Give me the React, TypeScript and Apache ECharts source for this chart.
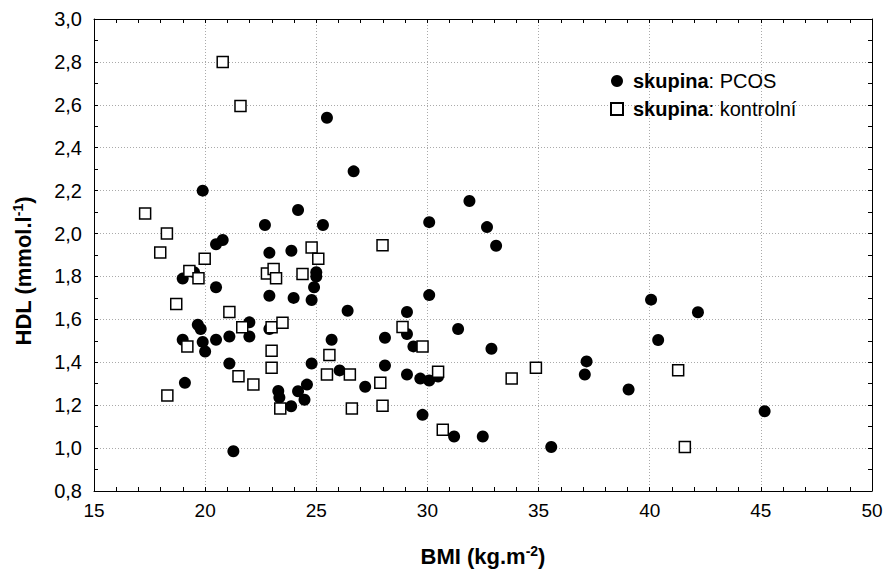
import React, { useEffect, useRef } from "react";
import * as echarts from "echarts";

const pcosBMI = [25.48, 26.68, 19.89, 24.18, 22.69, 25.3, 20.49, 20.79, 22.89, 23.88, 18.99, 19.5, 20.49, 25.0, 25.0, 24.9, 22.89, 23.98, 24.79, 26.41, 19.67, 19.8, 21.99, 21.99, 21.09, 20.49, 18.99, 19.89, 20.0, 22.89, 25.69, 24.79, 21.09, 26.05, 27.2, 19.09, 23.29, 23.34, 24.18, 24.58, 24.47, 23.87, 21.27, 31.89, 30.08, 32.68, 33.09, 30.08, 29.08, 29.08, 28.09, 31.38, 29.37, 32.88, 28.09, 29.08, 29.68, 30.08, 30.48, 37.16, 37.08, 39.05, 29.78, 31.2, 32.49, 35.57, 40.06, 42.17, 40.38, 45.17];
const pcosHDL = [2.54, 2.29, 2.2, 2.11, 2.04, 2.04, 1.95, 1.97, 1.91, 1.92, 1.79, 1.82, 1.75, 1.82, 1.8, 1.75, 1.71, 1.7, 1.69, 1.64, 1.575, 1.555, 1.586, 1.52, 1.52, 1.505, 1.505, 1.495, 1.45, 1.555, 1.505, 1.394, 1.394, 1.362, 1.286, 1.304, 1.266, 1.236, 1.265, 1.296, 1.225, 1.195, 0.985, 2.152, 2.053, 2.03, 1.943, 1.713, 1.634, 1.532, 1.514, 1.555, 1.474, 1.463, 1.385, 1.343, 1.324, 1.315, 1.334, 1.404, 1.343, 1.273, 1.155, 1.054, 1.054, 1.005, 1.692, 1.633, 1.504, 1.172];

const controlBMI = [20.79, 21.59, 17.3, 18.28, 24.79, 25.09, 27.98, 17.98, 19.98, 19.29, 19.7, 18.7, 22.78, 23.08, 23.19, 24.38, 21.09, 21.67, 19.2, 22.99, 23.48, 22.99, 22.99, 25.59, 25.48, 26.51, 27.88, 27.98, 21.5, 22.17, 18.3, 23.38, 26.6, 28.88, 29.78, 30.48, 33.79, 34.88, 30.69, 41.28, 41.58];
const controlHDL = [2.8, 2.594, 2.093, 2.0, 1.935, 1.882, 1.945, 1.912, 1.882, 1.825, 1.792, 1.672, 1.814, 1.835, 1.792, 1.812, 1.634, 1.563, 1.474, 1.563, 1.584, 1.454, 1.374, 1.434, 1.343, 1.343, 1.304, 1.197, 1.335, 1.296, 1.245, 1.184, 1.185, 1.564, 1.474, 1.356, 1.324, 1.374, 1.085, 1.363, 1.005];

const seriesNames = ["PCOS", "kontrolní"];
const legendPrefix = "skupina";
const xTitle = ["BMI (kg.m", "-2", ")"];
const yTitle = ["HDL (mmol.l", "-1", ")"];

const FONT = "'Liberation Sans', Arial, sans-serif";

export default function App() {
  const ref = useRef<HTMLDivElement>(null);
  useEffect(() => {
    document.body.style.margin = "0";
    if (!ref.current) return;
    const chart = echarts.init(ref.current, null, { renderer: "svg" });
    const axisCommon = {
      type: "value" as const,
      axisLine: { show: true, onZero: false, lineStyle: { color: "#000", width: 1 } },
      axisTick: { show: true, inside: true, length: 4, lineStyle: { color: "#000" } },
      minorTick: { show: true, length: 4, lineStyle: { color: "#000" } },
    };
    const splitLine = { show: true, lineStyle: { color: "#aaa", type: [1, 2] as any, width: 1 } };
    const titleRich = {
      t: { fontSize: 22, fontWeight: "bold", fontFamily: FONT, lineHeight: 24, fill: "#000" },
      s: { fontSize: 14, fontWeight: "bold", fontFamily: FONT, lineHeight: 14, verticalAlign: "top", fill: "#000" },
    };
    const option: any = {
      animation: false,
      backgroundColor: "#fff",
      textStyle: { fontFamily: FONT },
      grid: { left: 94, right: 17, top: 19, bottom: 85, containLabel: false },
      xAxis: [
        {
          ...axisCommon,
          position: "bottom",
          min: 15,
          max: 50,
          interval: 5,
          minorTick: { ...axisCommon.minorTick, splitNumber: 5 },
          splitLine,
          axisLabel: { color: "#000", fontSize: 19, margin: 10, fontFamily: FONT },
        },
        {
          ...axisCommon,
          position: "top",
          min: 15,
          max: 50,
          interval: 5,
          minorTick: { ...axisCommon.minorTick, splitNumber: 5 },
          splitLine: { show: false },
          axisLabel: { show: false },
        },
      ],
      yAxis: [
        {
          ...axisCommon,
          position: "left",
          min: 0.8,
          max: 3.0,
          interval: 0.2,
          minorTick: { ...axisCommon.minorTick, splitNumber: 2 },
          splitLine,
          axisLabel: {
            color: "#000",
            fontSize: 20,
            margin: 12,
            fontFamily: FONT,
            formatter: (v: number) => v.toFixed(1).replace(".", ","),
          },
        },
        {
          ...axisCommon,
          position: "right",
          min: 0.8,
          max: 3.0,
          interval: 0.2,
          minorTick: { ...axisCommon.minorTick, splitNumber: 2 },
          splitLine: { show: false },
          axisLabel: { show: false },
        },
      ],
      legend: {
        orient: "vertical",
        left: 605,
        top: 66,
        itemWidth: 12,
        itemHeight: 12,
        itemGap: 8,
        selectedMode: false,
        data: [
          { name: seriesNames[0], icon: "circle" },
          { name: seriesNames[1], icon: "rect" },
        ],
        formatter: (name: string) => `{b|${legendPrefix}}{n|: ${name}}`,
        textStyle: {
          color: "#000",
          fontSize: 20,
          lineHeight: 20,
          fontFamily: FONT,
          rich: {
            b: { fontWeight: "bold", fontSize: 20, lineHeight: 20, fontFamily: FONT, color: "#000", padding: [0, 0, 0, 5] },
            n: { fontSize: 20, lineHeight: 20, fontFamily: FONT, color: "#000" },
          },
        },
      },
      graphic: [
        {
          type: "text",
          x: 483,
          y: 556,
          style: {
            text: `{t|${xTitle[0]}}{s|${xTitle[1]}}{t|${xTitle[2]}}`,
            align: "center",
            verticalAlign: "middle",
            rich: titleRich,
          },
        },
        {
          type: "text",
          x: 23,
          y: 271,
          rotation: Math.PI / 2,
          style: {
            text: `{t|${yTitle[0]}}{s|${yTitle[1]}}{t|${yTitle[2]}}`,
            align: "center",
            verticalAlign: "middle",
            rich: titleRich,
          },
        },
      ],
      series: [
        {
          name: seriesNames[0],
          type: "scatter",
          symbol: "circle",
          symbolSize: 12,
          itemStyle: { color: "#000", opacity: 1 },
          data: pcosBMI.map((x, i) => [x, pcosHDL[i]]),
          z: 2,
        },
        {
          name: seriesNames[1],
          type: "scatter",
          symbol: "rect",
          symbolSize: 11,
          itemStyle: { color: "#fff", borderColor: "#000", borderWidth: 1.5, opacity: 1 },
          data: controlBMI.map((x, i) => [x, controlHDL[i]]),
          z: 3,
        },
      ],
    };
    chart.setOption(option);
    return () => chart.dispose();
  }, []);
  return <div ref={ref} style={{ width: 889, height: 576 }} />;
}
